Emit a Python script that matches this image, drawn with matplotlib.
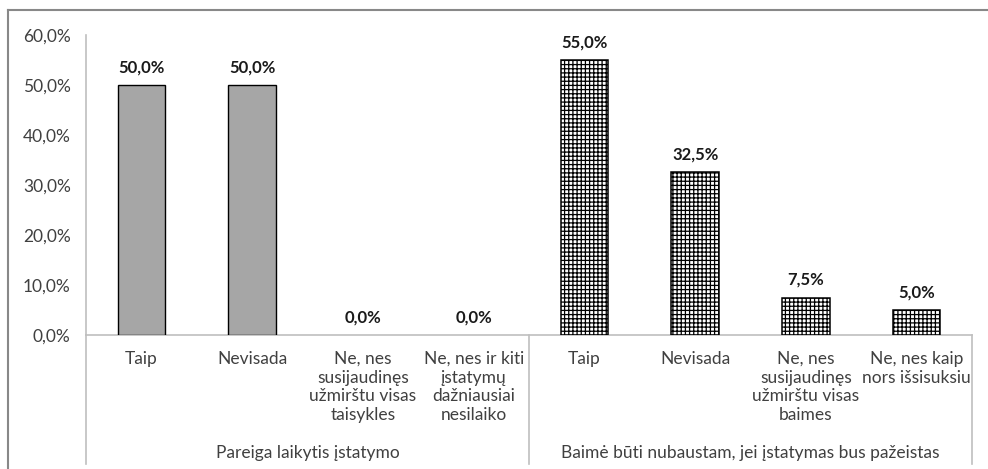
import numpy as np
from matplotlib import pyplot as plt
from matplotlib.lines import Line2D

# Survey answers, two question groups
group_names = ["Pareiga laikytis įstatymo",
               "Baimė būti nubaustam, jei įstatymas bus pažeistas"]
duty_labels = ["Taip", "Nevisada",
               "Ne, nes\nsusijaudinęs\nužmirštu visas\ntaisykles",
               "Ne, nes ir kiti\nįstatymų\ndažniausiai\nnesilaiko"]
fear_labels = ["Taip", "Nevisada",
               "Ne, nes\nsusijaudinęs\nužmirštu visas\nbaimes",
               "Ne, nes kaip\nnors išsisuksiu"]
duty_values = [50.0, 50.0, 0.0, 0.0]
fear_values = [55.0, 32.5, 7.5, 5.0]
y_ticks = [0, 10, 20, 30, 40, 50, 60]

plt.rcParams['font.family'] = ['Lato', 'DejaVu Sans']
plt.rcParams['hatch.linewidth'] = 0.9
W, H = 988, 469
fig = plt.figure(figsize=(W / 100, H / 100), dpi=100)
ax = fig.add_axes([86 / W, 1 - 335 / H, (972 - 86) / W, 300 / H])

n = len(duty_values) + len(fear_values)
x = np.arange(n)
bw = 0.43
# zero-height bars get no outline so nothing shows on the axis
duty_edges = ['black' if v > 0 else 'none' for v in duty_values]
ax.bar(x[:4], duty_values, width=bw, color='#A6A6A6', edgecolor=duty_edges,
       linewidth=1.0, zorder=3)
ax.bar(x[4:], fear_values, width=bw, color='white', edgecolor='black',
       hatch='++++', linewidth=1.1, zorder=3)

# value labels above the bars
for xi, v in zip(x, duty_values + fear_values):
    ax.annotate(f"{v:.1f}%".replace('.', ','), (xi, v), xytext=(0, 7),
                textcoords='offset points', ha='center', va='bottom',
                fontsize=12, fontweight='bold', color='#1a1a1a')

ax.set_xlim(-0.5, n - 0.5)
ax.set_ylim(0, 60)
ax.set_yticks(y_ticks)
ax.set_yticklabels([f"{t:.1f}%".replace('.', ',') for t in y_ticks])
ax.tick_params(axis='y', length=0, pad=11, labelsize=12.5, labelcolor='#404040')
ax.set_xticks([])
for s in ['top', 'right']:
    ax.spines[s].set_visible(False)
for s in ['left', 'bottom']:
    ax.spines[s].set_color('#BFBFBF')
    ax.spines[s].set_linewidth(1.2)

# category labels and group labels under the axis
trans = ax.get_xaxis_transform()
for xi, lab in zip(x, duty_labels + fear_labels):
    ax.text(xi, -16 / 300, lab, transform=trans, ha='center', va='top',
            fontsize=12.5, color='#404040', linespacing=1.2)
for gi, name in enumerate(group_names):
    ax.text(gi * 4 + 1.5, -118 / 300, name, transform=trans, ha='center',
            va='center', fontsize=12.5, color='#404040')
for xs in [-0.5, 3.5, n - 0.5]:
    ax.add_line(Line2D([xs, xs], [0, -129 / 300], transform=trans,
                       color='#BFBFBF', linewidth=1.2, clip_on=False))

# chart frame
fig.add_artist(Line2D([8 / W, 8 / W], [0, 1 - 10 / H], color='#888888',
                      linewidth=1.5))
fig.add_artist(Line2D([8 / W, 1], [1 - 10 / H, 1 - 10 / H], color='#888888',
                      linewidth=1.5))

fig.savefig('out.png', dpi=100)
